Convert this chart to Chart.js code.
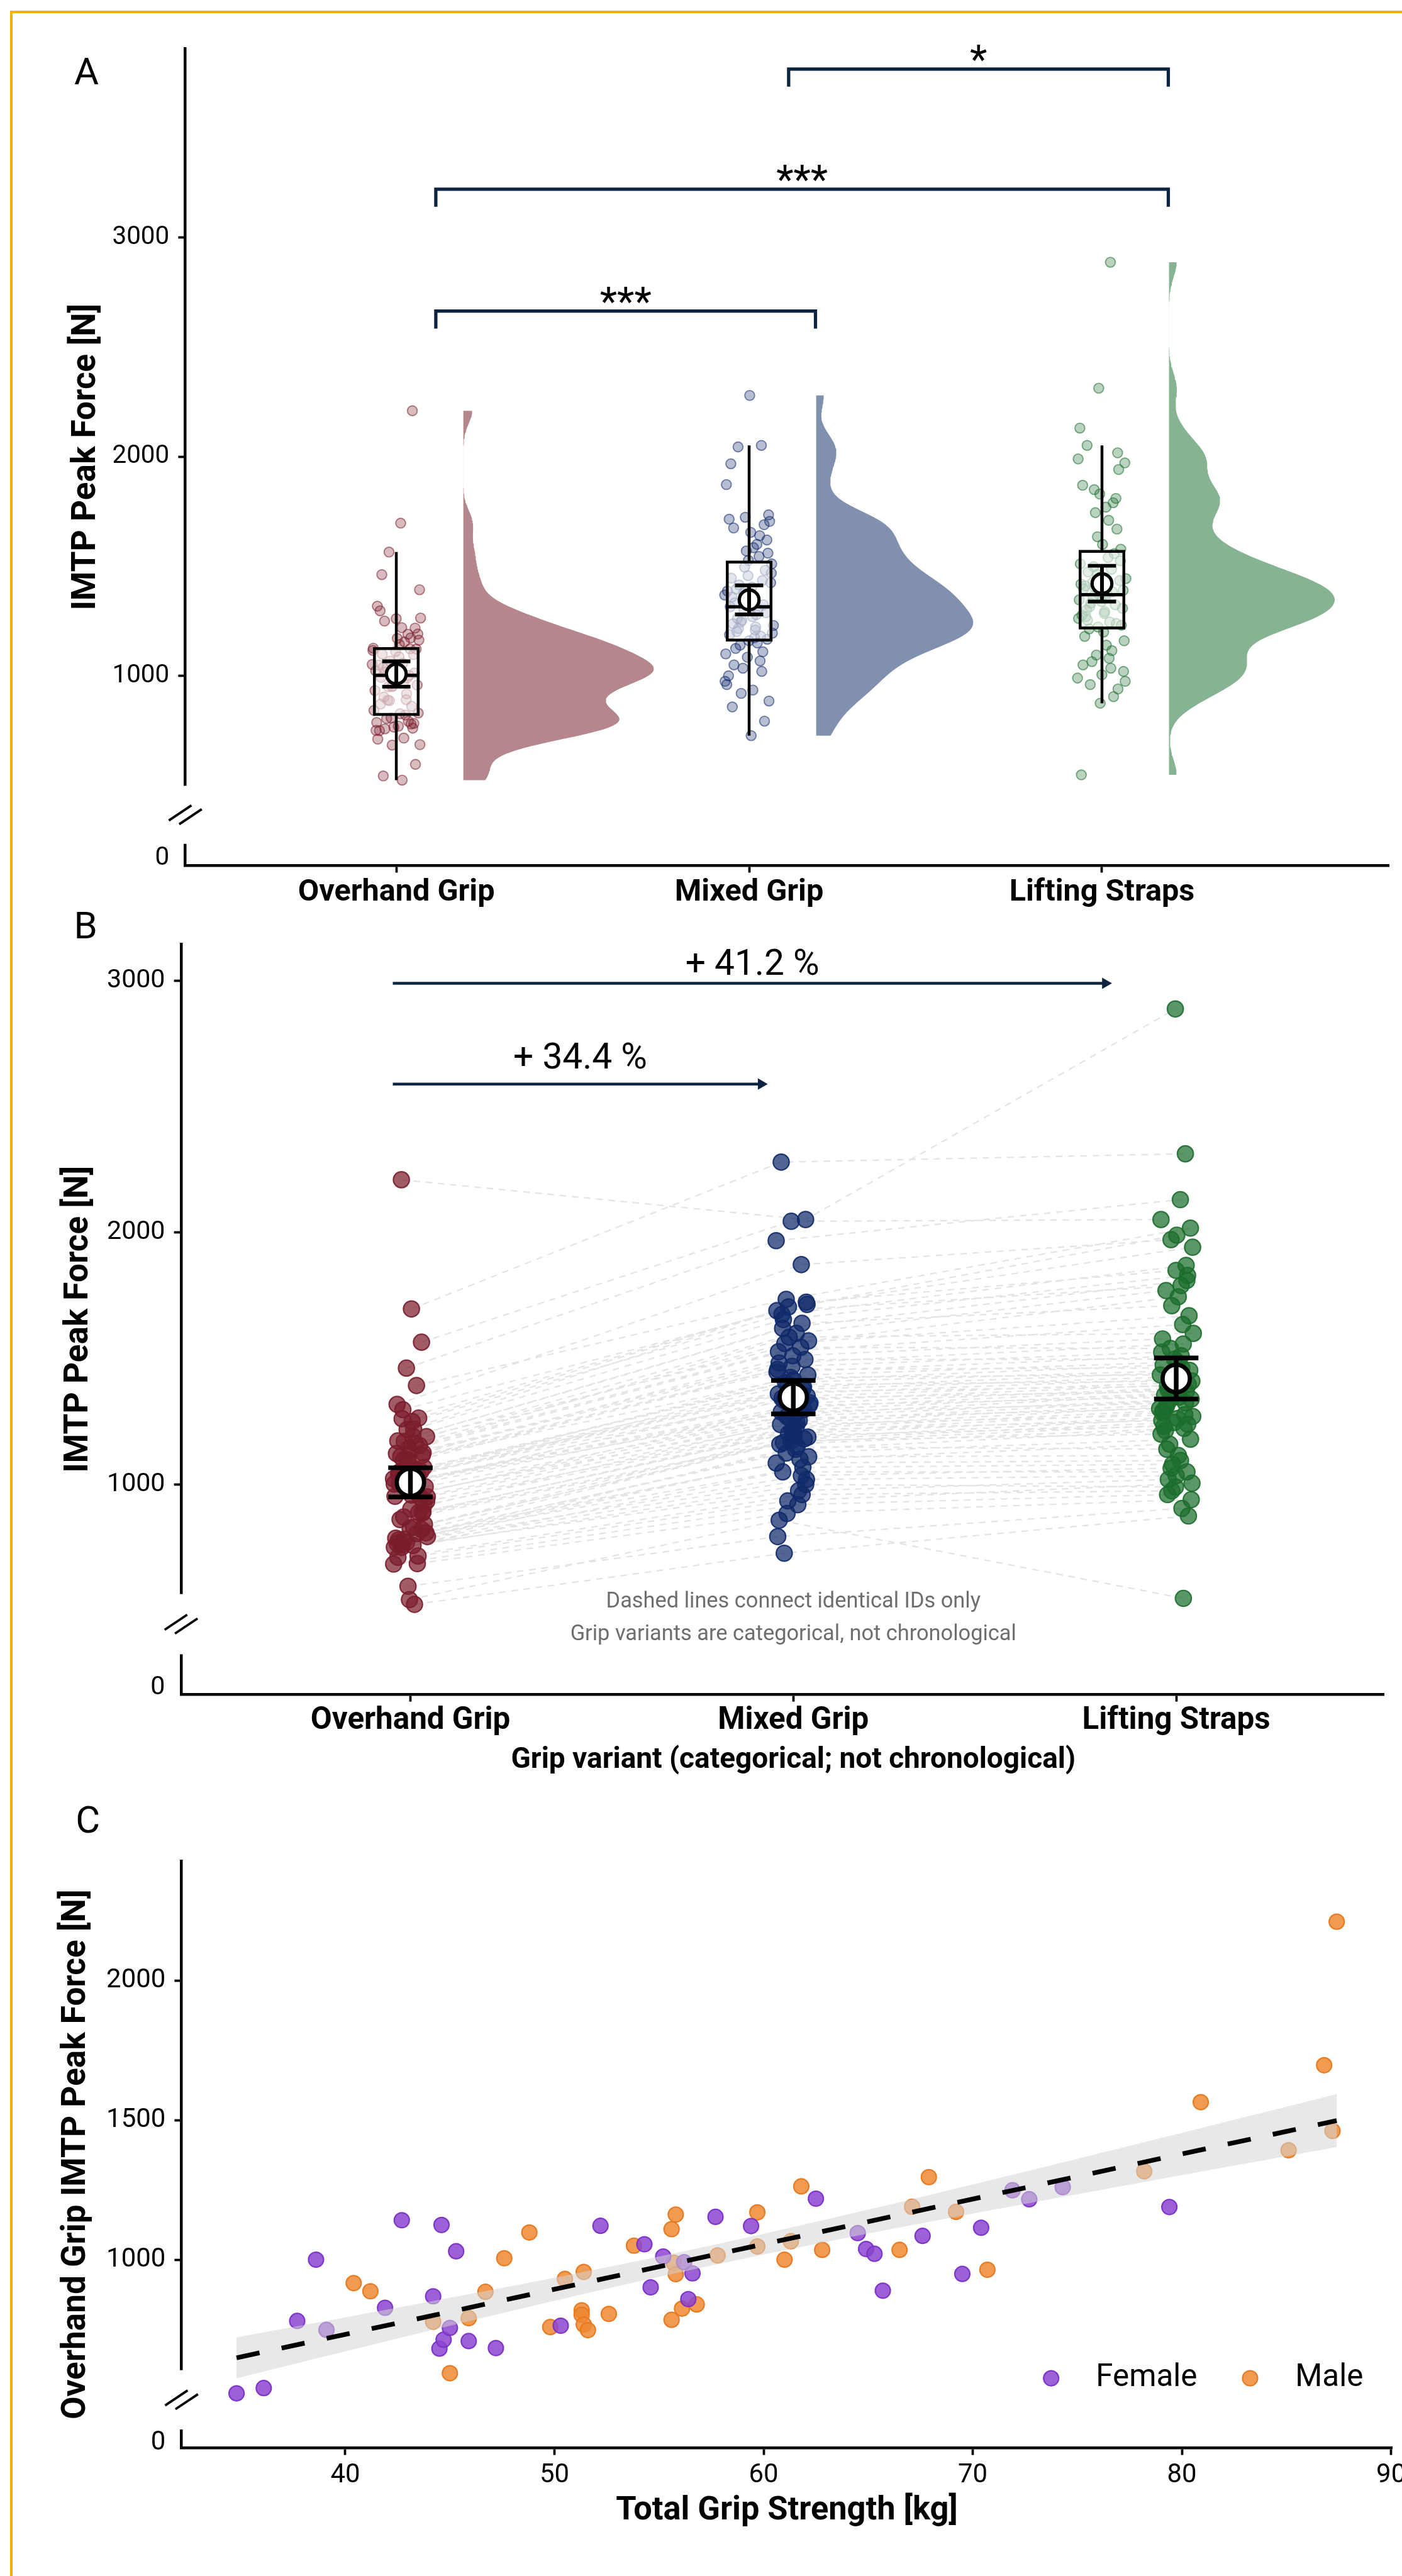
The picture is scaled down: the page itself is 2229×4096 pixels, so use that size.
<!DOCTYPE html>
<html lang="en">
<head>
<meta charset="utf-8">
<title>IMTP peak force by grip variant</title>
<script src="https://cdn.jsdelivr.net/npm/chart.js@4.4.1/dist/chart.umd.min.js"></script>
<style>
  html, body { margin: 0; padding: 0; background: #ffffff; }
  #figure { position: relative; width: 2229px; height: 4096px; overflow: hidden; background: #ffffff; }
  #figure canvas { position: absolute; left: 0; }
  #frame { position: absolute; left: 16px; top: 17px; width: 4000px; height: 6000px;
           border-left: 4.5px solid #f0b400; border-top: 4.5px solid #f0b400; pointer-events: none; }
</style>
</head>
<body>
<div id="figure">
  <canvas id="panelA"></canvas>
  <canvas id="panelB"></canvas>
  <canvas id="panelC"></canvas>
  <div id="frame"></div>
</div>
<script>
// ---- data (one entry per participant, same order in every array) ----
const grips = ['Overhand Grip', 'Mixed Grip', 'Lifting Straps'];
const sexLabels = ['Female', 'Male'];

const gripStrength = [
  34.8, 36.1, 37.7, 38.6, 39.1, 40.4, 41.2, 41.9, 42.7, 44.2,
  44.2, 44.5, 44.6, 44.7, 45.0, 45.0, 45.3, 45.9, 45.9, 46.7,
  47.2, 47.6, 48.8, 49.8, 50.3, 50.5, 51.3, 51.3, 51.4, 51.4,
  51.6, 52.2, 52.6, 53.8, 54.3, 54.6, 55.2, 55.6, 55.6, 55.7,
  55.8, 55.8, 56.1, 56.2, 56.4, 56.6, 56.8, 57.7, 57.8, 59.4,
  59.7, 59.7, 61.0, 61.3, 61.8, 62.5, 62.8, 64.5, 64.9, 65.3,
  65.7, 66.5, 67.1, 67.6, 67.9, 69.2, 69.5, 70.4, 70.7, 71.9,
  72.7, 74.3, 78.2, 79.4, 80.9, 85.1, 86.8, 87.2, 87.4
];
const sex = [
  'F','F','F','F','F','M','M','F','F','F',
  'M','F','F','F','F','M','F','F','M','M',
  'F','M','M','M','F','M','M','M','M','M',
  'M','F','M','M','F','F','F','M','M','M',
  'M','M','M','F','F','F','M','F','M','F',
  'M','M','M','M','M','F','M','F','F','F',
  'F','M','M','F','M','M','F','F','M','F',
  'F','F','M','F','M','M','M','M','M'
];
const overhand = [
  524, 543, 783, 1002, 751, 918, 889, 830, 1143, 871,
  780, 684, 1126, 716, 758, 596, 1032, 711, 793, 887,
  686, 1007, 1099, 761, 766, 933, 821, 805, 958, 770,
  750, 1123, 808, 1052, 1057, 903, 1013, 1111, 787, 991,
  950, 1163, 827, 993, 861, 953, 842, 1155, 1017, 1122,
  1171, 1049, 1002, 1068, 1264, 1220, 1037, 1097, 1040, 1023,
  891, 1037, 1191, 1087, 1297, 1173, 951, 1116, 966, 1250,
  1218, 1261, 1318, 1190, 1565, 1393, 1697, 1462, 2210
];
const mixed = [
  727, 858, 1110, 1297, 975, 1223, 1202, 1167, 1527, 1188,
  1068, 920, 1511, 935, 1050, 793, 1351, 960, 1150, 1216,
  885, 1342, 1446, 1020, 1035, 1230, 1174, 1125, 1288, 1085,
  1000, 1545, 1140, 1425, 1405, 1238, 1324, 1496, 1100, 1279,
  1262, 1560, 1160, 1315, 1181, 1254, 1195, 1585, 1333, 1482,
  1570, 1387, 1306, 1415, 1705, 1655, 1360, 1435, 1378, 1369,
  1209, 1396, 1620, 1457, 1715, 1640, 1246, 1469, 1270, 1675,
  1690, 1724, 1873, 1600, 2045, 1735, 2280, 1968, 2052
];
const straps = [
  875, 548, 1115, 1362, 1020, 1293, 1270, 1239, 1635, 1262,
  1080, 960, 1578, 1005, 1050, 905, 1404, 975, 1140, 1254,
  940, 1370, 1511, 1035, 1065, 1308, 1200, 1180, 1324, 1095,
  990, 1540, 1214, 1435, 1453, 1277, 1383, 1498, 1160, 1355,
  1301, 1670, 1223, 1347, 1246, 1332, 1231, 1600, 1397, 1558,
  1745, 1444, 1376, 1474, 1942, 1830, 1419, 1486, 1427, 1390,
  1285, 1411, 1810, 1463, 1990, 1710, 1316, 1525, 1339, 1870,
  1790, 1850, 1972, 1770, 2052, 2018, 2313, 2131, 2888
];

const forceTicks = [1000, 2000, 3000];
const forceTicksC = [1000, 1500, 2000];
const strengthTicks = [40, 50, 60, 70, 80, 90];

const comparisons = [[0, 1, '***'], [0, 2, '***'], [1, 2, '*']];
const gainLabels = ['+ 34.4 %', '+ 41.2 %'];
const noteLines = ['Dashed lines connect identical IDs only', 'Grip variants are categorical, not chronological'];
const gripAxisTitle = 'Grip variant (categorical; not chronological)';

// ---- look and layout (reference pixels, scaled to the window) ----
const S = 2229 / 2981;
const px = v => v * S;
const ink = '#000000';
const navy = '#0c2442';
const groupColors = ['#7b1d2c', '#10296a', '#1c6d2d'];
const violinColors = ['#b5868c', '#8190af', '#86b391'];
const sexFill = ['rgba(140,68,208,0.85)', 'rgba(238,136,50,0.85)'];
const sexEdge = ['rgba(122,48,200,0.95)', 'rgba(230,120,30,0.95)'];
const FONT = 'Roboto, "Noto Sans", sans-serif';

Chart.defaults.font.family = FONT;
Chart.defaults.color = ink;

const layA = { top: 0, height: 1960, padTop: 103, padRight: 18, yWidth: 394, xHeight: 120 };
const layB = { top: 1900, height: 1900, padTop: 107, padRight: 0, yWidth: 385, xHeight: 196 };
const layC = { top: 3780, height: 1697, padTop: 178, padRight: 21, yWidth: 386, xHeight: 271 };

const bracketLevels = [2665, 3221, 3770];
const gainArrows = [{ from: 0.954, to: 1.933, y: 2590, textY: 2651 }, { from: 0.954, to: 2.832, y: 2990, textY: 3024 }];

// ---- helpers ----
function rgba(hex, a) {
  const n = parseInt(hex.slice(1), 16);
  return `rgba(${n >> 16},${(n >> 8) & 255},${n & 255},${a})`;
}
function summary(values) {
  const s = values.slice().sort((a, b) => a - b);
  const n = s.length;
  const q = p => { const h = (n - 1) * p, lo = Math.floor(h); return s[lo] + (h - lo) * (s[Math.min(lo + 1, n - 1)] - s[lo]); };
  const mean = s.reduce((a, b) => a + b, 0) / n;
  const sd = Math.sqrt(s.reduce((a, b) => a + (b - mean) ** 2, 0) / (n - 1));
  const q1 = q(0.25), med = q(0.5), q3 = q(0.75), iqr = q3 - q1;
  return {
    s, n, mean, sd, q1, med, q3, iqr, min: s[0], max: s[n - 1],
    lo: s.find(v => v >= q1 - 1.5 * iqr), hi: s.filter(v => v <= q3 + 1.5 * iqr).pop(),
    ci: 1.99 * sd / Math.sqrt(n)
  };
}
// gaussian kernel density, bandwidth = adjust * nrd0
function kde(st, steps, adjust) {
  const bw = adjust * 0.9 * Math.min(st.sd, st.iqr / 1.34) * Math.pow(st.n, -0.2);
  const out = [];
  for (let k = 0; k <= steps; k++) {
    const y = st.min + (st.max - st.min) * k / steps;
    let d = 0;
    st.s.forEach(v => { const z = (y - v) / bw; d += Math.exp(-0.5 * z * z); });
    out.push({ y, d: d / (st.n * bw * Math.sqrt(2 * Math.PI)) });
  }
  return out;
}
function jitter(i, width) { return ((((i + 1) * 0.6180339887) % 1) - 0.5) * 2 * width; }
function segs(list) {
  const out = [];
  list.forEach(seg => { out.push(...seg, { x: seg[seg.length - 1].x, y: null }); });
  return out;
}
function lineSet(data, o) {
  return Object.assign({
    data, showLine: true, pointRadius: 0, borderColor: ink, borderWidth: px(6),
    backgroundColor: 'rgba(0,0,0,0)', fill: false, borderCapStyle: 'butt', borderJoinStyle: 'miter'
  }, o);
}
function drawText(ctx, text, x, y, size, o = {}) {
  ctx.save();
  ctx.font = `${o.weight || 'normal'} ${size}px ${FONT}`;
  ctx.fillStyle = o.color || ink;
  ctx.textAlign = o.align || 'center';
  ctx.textBaseline = o.baseline || 'alphabetic';
  ctx.fillText(text, x, y);
  ctx.restore();
}
function makeCanvas(id, lay) {
  const c = document.getElementById(id);
  const top = Math.round(px(lay.top));
  const h = Math.round(px(lay.top + lay.height)) - top;
  c.width = 2229; c.height = h;
  c.style.top = top + 'px'; c.style.width = '2229px'; c.style.height = h + 'px';
  return c;
}
function forceAxis(o) {
  return {
    type: 'linear', bounds: 'data', min: o.min, max: o.max,
    afterFit(scale) { scale.width = px(o.width); scale.paddingTop = 0; scale.paddingBottom = 0; },
    afterBuildTicks(scale) { scale.ticks = [o.zero, ...o.ticks].map(value => ({ value })); },
    ticks: { autoSkip: false, color: ink, padding: px(19), font: { size: px(o.tickSize) },
             callback: v => (v === o.zero ? '0' : String(v)) },
    grid: { drawOnChartArea: false, tickLength: px(15), tickWidth: px(5),
            tickColor: c => (c.tick && c.tick.value === o.zero ? 'rgba(0,0,0,0)' : ink) },
    border: { display: true, color: ink, width: px(6) },
    title: { display: true, text: o.title, color: ink, font: { size: px(o.titleSize), weight: 'bold' },
             padding: { top: px(o.titleX - 0.6 * o.titleSize), bottom: 0 } }
  };
}
function bottomAxis(o) {
  return {
    type: 'linear', bounds: 'data', min: o.min, max: o.max,
    afterFit(scale) { scale.height = px(o.height); scale.paddingLeft = 0; scale.paddingRight = 0; },
    afterBuildTicks(scale) { scale.ticks = o.ticks.map(value => ({ value })); },
    ticks: { autoSkip: false, maxRotation: 0, minRotation: 0, color: ink, padding: px(o.pad),
             font: { size: px(o.tickSize), weight: o.bold ? 'bold' : 'normal' }, callback: o.label },
    grid: { drawOnChartArea: false, tickLength: px(15), tickWidth: px(5), tickColor: ink },
    border: { display: true, color: ink, width: px(6) },
    title: o.title
      ? { display: true, text: o.title, color: ink, font: { size: px(o.titleSize), weight: 'bold' },
          padding: { top: 0, bottom: px(o.titleOffset - 0.6 * o.titleSize) } }
      : { display: false }
  };
}
// white gap in the y axis line with the "//" break marks
function axisBreak(from, to) {
  return {
    id: 'axisBreak',
    beforeDatasetsDraw(chart) {
      const { ctx, scales: { y } } = chart;
      const x = y.right;
      const top = y.getPixelForValue(to), bottom = y.getPixelForValue(from);
      const mid = (top + bottom) / 2;
      ctx.save();
      ctx.fillStyle = '#ffffff';
      ctx.fillRect(x - px(10), top, px(20), bottom - top);
      ctx.strokeStyle = ink;
      ctx.lineWidth = px(5);
      [-1, 1].forEach(side => {
        const cx = x + side * px(11), cy = mid + side * px(4);
        ctx.beginPath();
        ctx.moveTo(cx - px(24), cy + px(16));
        ctx.lineTo(cx + px(24), cy - px(16));
        ctx.stroke();
      });
      ctx.restore();
    }
  };
}
function panel(id, lay, scales, datasets, breakRange, extras) {
  return new Chart(makeCanvas(id, lay), {
    type: 'scatter',
    data: { datasets },
    options: {
      responsive: false, maintainAspectRatio: false, devicePixelRatio: 1, animation: false, events: [],
      layout: { padding: { top: px(lay.padTop), right: px(lay.padRight), left: 0, bottom: 0 } },
      plugins: { legend: { display: false }, tooltip: { enabled: false } },
      scales
    },
    plugins: [axisBreak(breakRange[0], breakRange[1]), { id: 'extras', afterDatasetsDraw: extras }]
  });
}

const groupVals = [overhand, mixed, straps];
const stats = groupVals.map(summary);

// ---- Panel A: raincloud ----
const boxHalf = 0.062, capA = 0.04, violinShift = 0.19, violinWidth = 0.54, jitterA = 0.07;
const dens = stats.map(s => kde(s, 240, 0.7));
const peak = Math.max(...dens.map(d => Math.max(...d.map(p => p.d))));
const dsA = [];
stats.forEach((s, k) => {
  const base = k + 1 + violinShift;
  dsA.push(lineSet(
    [{ x: base, y: s.min }, ...dens[k].map(p => ({ x: base + violinWidth * p.d / peak, y: p.y })), { x: base, y: s.max }],
    { fill: 'shape', backgroundColor: violinColors[k], borderColor: 'rgba(0,0,0,0)', borderWidth: 0, order: 9 }));
});
groupVals.forEach((vals, k) => dsA.push({
  data: vals.map((v, i) => ({ x: k + 1 + jitter(i + 29 * k, jitterA), y: v })),
  pointRadius: px(10.5), pointBorderWidth: px(2.5),
  pointBackgroundColor: rgba(groupColors[k], 0.3), pointBorderColor: rgba(groupColors[k], 0.55), order: 8
}));
dsA.push(lineSet(segs(stats.map((s, k) => [{ x: k + 1, y: s.lo }, { x: k + 1, y: s.q1 }])
  .concat(stats.map((s, k) => [{ x: k + 1, y: s.q3 }, { x: k + 1, y: s.hi }]))), { borderWidth: px(6), order: 7 }));
dsA.push(lineSet(segs(stats.map((s, k) => [
  { x: k + 1 - boxHalf, y: s.q1 }, { x: k + 1 + boxHalf, y: s.q1 }, { x: k + 1 + boxHalf, y: s.q3 },
  { x: k + 1 - boxHalf, y: s.q3 }, { x: k + 1 - boxHalf, y: s.q1 }])),
  { fill: 'shape', backgroundColor: 'rgba(255,255,255,0.6)', borderWidth: px(6), borderCapStyle: 'square', order: 6 }));
dsA.push(lineSet(segs(stats.map((s, k) => [{ x: k + 1 - boxHalf, y: s.med }, { x: k + 1 + boxHalf, y: s.med }])),
  { borderWidth: px(7), order: 5 }));
dsA.push({ data: stats.map((s, k) => ({ x: k + 1, y: s.mean })), pointRadius: px(21), pointBorderWidth: px(7),
  pointBackgroundColor: '#ffffff', pointBorderColor: ink, order: 4 });
dsA.push(lineSet(segs(stats.flatMap((s, k) => [
  [{ x: k + 1, y: s.mean - s.ci }, { x: k + 1, y: s.mean + s.ci }],
  [{ x: k + 1 - capA, y: s.mean - s.ci }, { x: k + 1 + capA, y: s.mean - s.ci }],
  [{ x: k + 1 - capA, y: s.mean + s.ci }, { x: k + 1 + capA, y: s.mean + s.ci }]])), { borderWidth: px(8), order: 3 }));
const bracketEnds = comparisons.map(([a, b], i) => ({ from: a + 1.112, to: b + 1.188, y: bracketLevels[i] }));
dsA.push(lineSet(segs(bracketEnds.map(b => [
  { x: b.from, y: b.y - 80 }, { x: b.from, y: b.y }, { x: b.to, y: b.y }, { x: b.to, y: b.y - 80 }])),
  { borderColor: navy, borderWidth: px(7), order: 2 }));

panel('panelA', layA, {
  x: bottomAxis({ min: 0.402, max: 3.813, height: layA.xHeight, ticks: [1, 2, 3], pad: 4, tickSize: 65, bold: true,
                  label: v => grips[v - 1] }),
  y: forceAxis({ min: 134, max: 3864, zero: 168, ticks: forceTicks, width: layA.yWidth, tickSize: 54,
                 title: 'IMTP Peak Force [N]', titleSize: 71, titleX: 184 })
}, dsA, [233, 498], chart => {
  const { ctx, scales: { x, y } } = chart;
  bracketEnds.forEach((b, i) => {
    drawText(ctx, comparisons[i][2], (x.getPixelForValue(b.from) + x.getPixelForValue(b.to)) / 2,
             y.getPixelForValue(b.y - 18), px(85));
  });
  drawText(ctx, 'A', px(184), px(179), px(80));
});

// ---- Panel B: paired points ----
const jitterB = 0.045, capB = 0.058, headBack = 0.017;
const jB = groupVals.map((vals, k) => vals.map((_, i) => jitter(i * 3 + k, jitterB)));
const idLines = [];
overhand.forEach((_, i) => idLines.push(groupVals.map((vals, k) => ({ x: k + 1 + jB[k][i], y: vals[i] }))));
const dsB = [];
dsB.push(lineSet(segs(idLines), { borderColor: 'rgba(205,205,205,0.55)', borderWidth: px(3),
  borderDash: [px(14), px(12)], order: 9 }));
groupVals.forEach((vals, k) => dsB.push({
  data: vals.map((v, i) => ({ x: k + 1 + jB[k][i], y: v })),
  pointRadius: px(17), pointBorderWidth: px(3),
  pointBackgroundColor: rgba(groupColors[k], 0.72), pointBorderColor: rgba(groupColors[k], 0.9), order: 5
}));
dsB.push({ data: stats.map((s, k) => ({ x: k + 1, y: s.mean })), pointRadius: px(29), pointBorderWidth: px(9),
  pointBackgroundColor: '#ffffff', pointBorderColor: ink, order: 2 });
dsB.push(lineSet(segs(stats.flatMap((s, k) => [
  [{ x: k + 1, y: s.mean - s.ci }, { x: k + 1, y: s.mean + s.ci }],
  [{ x: k + 1 - capB, y: s.mean - s.ci }, { x: k + 1 + capB, y: s.mean - s.ci }],
  [{ x: k + 1 - capB, y: s.mean + s.ci }, { x: k + 1 + capB, y: s.mean + s.ci }]])), { borderWidth: px(10), order: 1 }));
gainArrows.forEach(a => {
  dsB.push(lineSet([{ x: a.from, y: a.y }, { x: a.to - headBack, y: a.y }],
    { borderColor: navy, borderWidth: px(6), order: 0,
      pointRadius: [0, px(14)], pointStyle: 'triangle', pointRotation: 90,
      pointBackgroundColor: navy, pointBorderColor: navy, pointBorderWidth: 0 }));
});

panel('panelB', layB, {
  x: bottomAxis({ min: 0.401, max: 3.543, height: layB.xHeight, ticks: [1, 2, 3], pad: 2, tickSize: 66, bold: true,
                  label: v => grips[v - 1] }),
  y: forceAxis({ min: 166, max: 3146, zero: 192, ticks: forceTicks, width: layB.yWidth, tickSize: 55,
                 title: 'IMTP Peak Force [N]', titleSize: 71, titleX: 168 })
}, dsB, [326, 565], chart => {
  const { ctx, scales: { x, y } } = chart;
  gainArrows.forEach((a, i) => {
    drawText(ctx, gainLabels[i], (x.getPixelForValue(a.from) + x.getPixelForValue(a.to)) / 2,
             y.getPixelForValue(a.textY), px(76));
  });
  noteLines.forEach((t, i) => drawText(ctx, t, x.getPixelForValue(2), y.getPixelForValue([511, 382][i]), px(46),
    { color: '#6e6e6e' }));
  // axis title centred under the middle category, as in the original panel
  drawText(ctx, gripAxisTitle, x.getPixelForValue(2), x.bottom - px(40), px(61.5), { weight: 'bold' });
  drawText(ctx, 'B', px(182), px(95), px(80));
});

// ---- Panel C: grip strength vs overhand IMTP ----
const n = gripStrength.length;
const mx = gripStrength.reduce((a, b) => a + b, 0) / n;
const my = overhand.reduce((a, b) => a + b, 0) / n;
let sxx = 0, sxy = 0;
gripStrength.forEach((g, i) => { sxx += (g - mx) ** 2; sxy += (g - mx) * (overhand[i] - my); });
const slope = sxy / sxx, icpt = my - slope * mx;
let sse = 0;
gripStrength.forEach((g, i) => { sse += (overhand[i] - icpt - slope * g) ** 2; });
const seRes = Math.sqrt(sse / (n - 2));
const gMin = Math.min(...gripStrength), gMax = Math.max(...gripStrength);
const fitX = [];
for (let k = 0; k <= 80; k++) fitX.push(gMin + (gMax - gMin) * k / 80);
const half = g => 1.991 * seRes * Math.sqrt(1 / n + (g - mx) ** 2 / sxx);
const band = fitX.map(g => ({ x: g, y: icpt + slope * g + half(g) }))
  .concat(fitX.slice().reverse().map(g => ({ x: g, y: icpt + slope * g - half(g) })));
band.push(band[0]);

const dsC = [];
dsC.push(lineSet([{ x: gMin, y: icpt + slope * gMin }, { x: gMax, y: icpt + slope * gMax }],
  { borderWidth: px(10), borderDash: [px(50), px(48)], order: 0 }));
dsC.push(lineSet(band, { fill: 'shape', backgroundColor: 'rgba(214,214,214,0.55)', borderColor: 'rgba(0,0,0,0)',
  borderWidth: 0, order: 1 }));
['F', 'M'].forEach((code, k) => dsC.push({
  label: sexLabels[k],
  data: gripStrength.map((g, i) => (sex[i] === code ? { x: g, y: overhand[i] } : null)).filter(Boolean),
  pointRadius: px(16), pointBorderWidth: px(3),
  pointBackgroundColor: sexFill[k], pointBorderColor: sexEdge[k], order: 2 + k
}));

panel('panelC', layC, {
  x: bottomAxis({ min: 32.17, max: 90.05, height: layC.xHeight, ticks: strengthTicks, pad: 11, tickSize: 56,
                  label: v => String(v), title: 'Total Grip Strength [kg]', titleSize: 70, titleOffset: 137 }),
  y: forceAxis({ min: 329, max: 2427, zero: 346, ticks: forceTicksC, width: layC.yWidth, tickSize: 56,
                 title: 'Overhand Grip IMTP Peak Force [N]', titleSize: 71, titleX: 163 })
}, dsC, [395, 607], chart => {
  const { ctx } = chart;
  const dotX = [2235, 2658], textX = [2330, 2754], rowY = 1278;
  sexLabels.forEach((label, k) => {
    ctx.save();
    ctx.beginPath();
    ctx.arc(px(dotX[k]), px(rowY), px(16), 0, Math.PI * 2);
    ctx.fillStyle = sexFill[k];
    ctx.fill();
    ctx.lineWidth = px(3);
    ctx.strokeStyle = sexEdge[k];
    ctx.stroke();
    ctx.restore();
    drawText(ctx, label, px(textX[k]), px(rowY), px(66), { align: 'left', baseline: 'middle' });
  });
  drawText(ctx, 'C', px(187), px(118), px(80));
});
</script>
</body>
</html>
